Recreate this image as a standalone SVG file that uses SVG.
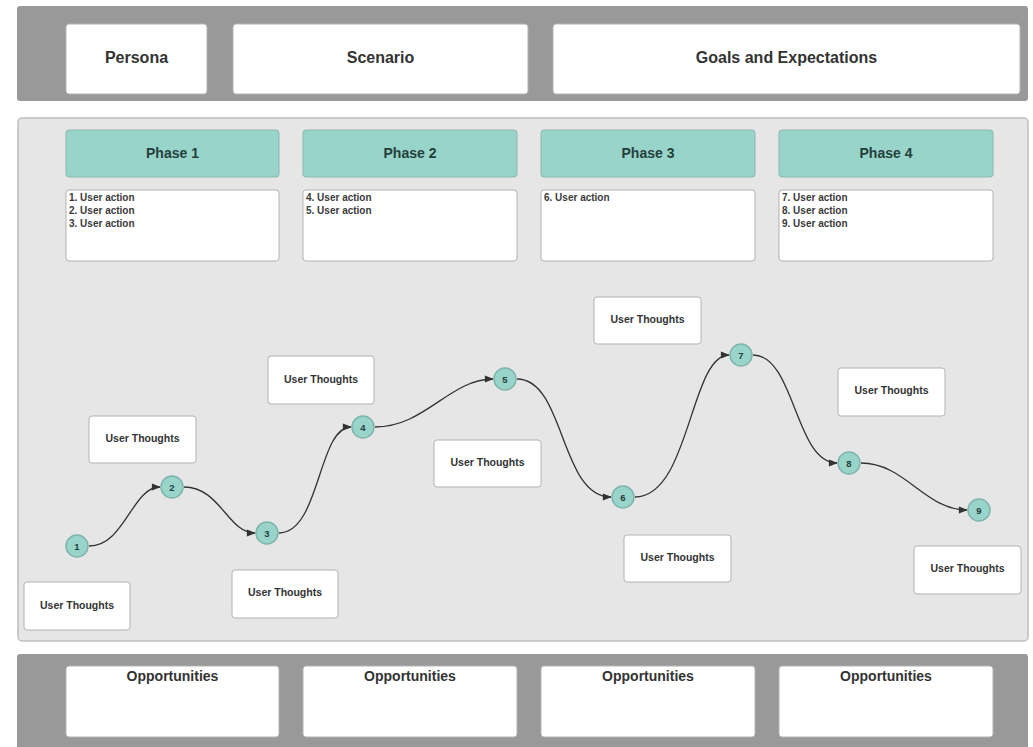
<svg xmlns="http://www.w3.org/2000/svg" width="1033" height="747" viewBox="0 0 1033 747">
  <style>
    .band { fill: #999999; }
    .panel { fill: #e6e6e6; stroke: #bdbdbd; stroke-width: 1.5; }
    .card { fill: #ffffff; stroke: #b3b3b3; stroke-width: 1; }
    .phase { fill: #98d4c9; stroke: #8ab8b0; stroke-width: 1; }
    .node circle { fill: #98d4c9; stroke: #7fb5ac; stroke-width: 1.5; }
    .t { font-family: "Liberation Sans", Arial, sans-serif; font-weight: bold; fill: #333333; }
    .head { font-size: 16px; text-anchor: middle; }
    .opp { font-size: 14px; text-anchor: middle; }
    .ph { font-size: 14px; text-anchor: middle; fill: #25403c; }
    .act { font-size: 10px; fill: #3a3a3a; }
    .ut { font-size: 10.5px; text-anchor: middle; }
    .num { font-size: 9.5px; text-anchor: middle; fill: #25403c; }
    .conn path { fill: none; stroke: #333333; stroke-width: 1.3; marker-end: url(#arrow); }
  </style>
  <defs>
    <marker id="arrow" viewBox="0 0 10 10" refX="9" refY="5" markerWidth="10" markerHeight="9" markerUnits="userSpaceOnUse" orient="auto">
      <path d="M0,1 L10,5 L0,9 z" fill="#333333"/>
    </marker>
  </defs>

  <rect width="1033" height="747" fill="#ffffff"/>

  <!-- header band -->
  <rect class="band" x="17" y="6" width="1011" height="95" rx="3"/>
  <g id="persona"><rect class="card" x="66" y="24" width="141" height="70" rx="3"/><text class="t head" x="136.5" y="63">Persona</text></g>
  <g id="scenario"><rect class="card" x="233" y="24" width="295" height="70" rx="3"/><text class="t head" x="380.5" y="63">Scenario</text></g>
  <g id="goals"><rect class="card" x="553" y="24" width="467" height="70" rx="3"/><text class="t head" x="786.5" y="63">Goals and Expectations</text></g>

  <!-- journey panel -->
  <rect class="panel" x="18" y="118" width="1010" height="523" rx="4"/>

  <g id="phase1"><rect class="phase" x="66" y="130" width="213" height="47" rx="3"/><text class="t ph" x="172.5" y="158">Phase 1</text></g>
  <g id="phase2"><rect class="phase" x="303" y="130" width="214" height="47" rx="3"/><text class="t ph" x="410" y="158">Phase 2</text></g>
  <g id="phase3"><rect class="phase" x="541" y="130" width="214" height="47" rx="3"/><text class="t ph" x="648" y="158">Phase 3</text></g>
  <g id="phase4"><rect class="phase" x="779" y="130" width="214" height="47" rx="3"/><text class="t ph" x="886" y="158">Phase 4</text></g>

  <g id="actions1"><rect class="card" x="66" y="190" width="213" height="71" rx="3"/>
    <text class="t act" x="69" y="201">1. User action</text><text class="t act" x="69" y="214">2. User action</text><text class="t act" x="69" y="227">3. User action</text></g>
  <g id="actions2"><rect class="card" x="303" y="190" width="214" height="71" rx="3"/>
    <text class="t act" x="306" y="201">4. User action</text><text class="t act" x="306" y="214">5. User action</text></g>
  <g id="actions3"><rect class="card" x="541" y="190" width="214" height="71" rx="3"/>
    <text class="t act" x="544" y="201">6. User action</text></g>
  <g id="actions4"><rect class="card" x="779" y="190" width="214" height="71" rx="3"/>
    <text class="t act" x="782" y="201">7. User action</text><text class="t act" x="782" y="214">8. User action</text><text class="t act" x="782" y="227">9. User action</text></g>

  <!-- thought cards -->
  <g id="thought1"><rect class="card" x="24" y="582" width="106" height="48" rx="3"/><text class="t ut" x="77" y="609">User Thoughts</text></g>
  <g id="thought2"><rect class="card" x="89" y="416" width="107" height="47" rx="3"/><text class="t ut" x="142.5" y="442">User Thoughts</text></g>
  <g id="thought3"><rect class="card" x="232" y="570" width="106" height="48" rx="3"/><text class="t ut" x="285" y="596">User Thoughts</text></g>
  <g id="thought4"><rect class="card" x="268" y="356" width="106" height="48" rx="3"/><text class="t ut" x="321" y="383">User Thoughts</text></g>
  <g id="thought5"><rect class="card" x="434" y="440" width="107" height="47" rx="3"/><text class="t ut" x="487.5" y="466">User Thoughts</text></g>
  <g id="thought6"><rect class="card" x="594" y="297" width="107" height="47" rx="3"/><text class="t ut" x="647.5" y="323">User Thoughts</text></g>
  <g id="thought7"><rect class="card" x="624" y="535" width="107" height="47" rx="3"/><text class="t ut" x="677.5" y="561">User Thoughts</text></g>
  <g id="thought8"><rect class="card" x="838" y="368" width="107" height="48" rx="3"/><text class="t ut" x="891.5" y="394">User Thoughts</text></g>
  <g id="thought9"><rect class="card" x="914" y="546" width="107" height="48" rx="3"/><text class="t ut" x="967.5" y="572">User Thoughts</text></g>

  <!-- journey curve -->
  <g id="connectors" class="conn">
    <path d="M89,546 C125,546 132,487 160,487"/>
    <path d="M184,487 C220,487 228,533 255,533"/>
    <path d="M279,533 C320,533 318,427 351,427"/>
    <path d="M375,427 C425,427 450,379 493,379"/>
    <path d="M517,379 C565,379 560,497 611,497"/>
    <path d="M635,497 C690,497 690,355 729,355"/>
    <path d="M753,355 C795,355 795,463 837,463"/>
    <path d="M861,463 C905,463 925,510 967,510"/>
  </g>

  <g id="n1" class="node"><circle cx="77" cy="546" r="11"/><text class="t num" x="77" y="549.5">1</text></g>
  <g id="n2" class="node"><circle cx="172" cy="487" r="11"/><text class="t num" x="172" y="490.5">2</text></g>
  <g id="n3" class="node"><circle cx="267" cy="533" r="11"/><text class="t num" x="267" y="536.5">3</text></g>
  <g id="n4" class="node"><circle cx="363" cy="427" r="11"/><text class="t num" x="363" y="430.5">4</text></g>
  <g id="n5" class="node"><circle cx="505" cy="379" r="11"/><text class="t num" x="505" y="382.5">5</text></g>
  <g id="n6" class="node"><circle cx="623" cy="497" r="11"/><text class="t num" x="623" y="500.5">6</text></g>
  <g id="n7" class="node"><circle cx="741" cy="355" r="11"/><text class="t num" x="741" y="358.5">7</text></g>
  <g id="n8" class="node"><circle cx="849" cy="463" r="11"/><text class="t num" x="849" y="466.5">8</text></g>
  <g id="n9" class="node"><circle cx="979" cy="510" r="11"/><text class="t num" x="979" y="513.5">9</text></g>

  <!-- opportunities band -->
  <rect class="band" x="17" y="654" width="1011" height="100" rx="3"/>
  <g id="opp1"><rect class="card" x="66" y="666" width="213" height="71" rx="3"/><text class="t opp" x="172.5" y="681">Opportunities</text></g>
  <g id="opp2"><rect class="card" x="303" y="666" width="214" height="71" rx="3"/><text class="t opp" x="410" y="681">Opportunities</text></g>
  <g id="opp3"><rect class="card" x="541" y="666" width="214" height="71" rx="3"/><text class="t opp" x="648" y="681">Opportunities</text></g>
  <g id="opp4"><rect class="card" x="779" y="666" width="214" height="71" rx="3"/><text class="t opp" x="886" y="681">Opportunities</text></g>
</svg>
